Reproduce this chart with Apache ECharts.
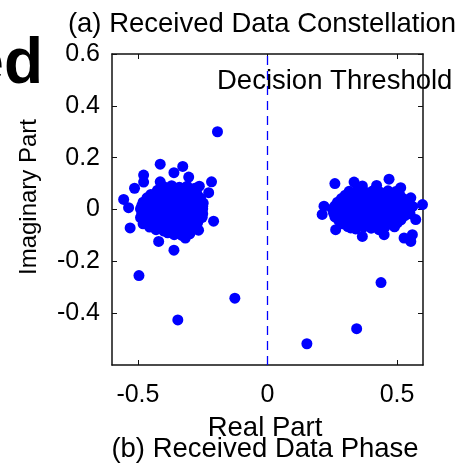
<!DOCTYPE html>
<html><head><meta charset="utf-8">
<script src="https://cdn.jsdelivr.net/npm/echarts@6/dist/echarts.min.js"></script>
<style>html,body{margin:0;padding:0;background:#fff}#c{width:465px;height:466px}</style>
</head><body><div id="c"></div>
<script>
// Tick labels
var xTicks = [-0.5, 0, 0.5];
var yTicks = [-0.4, -0.2, 0, 0.2, 0.4, 0.6];
var thresholdX = 0;

// Left cluster (symbol near -0.35)
var leftCore = [
 [-0.40,0.088],[-0.37,0.092],[-0.34,0.086],[-0.31,0.090],[-0.28,0.082],
 [-0.45,0.058],[-0.42,0.062],[-0.39,0.056],[-0.36,0.063],[-0.33,0.057],[-0.30,0.061],[-0.27,0.055],
 [-0.48,0.028],[-0.45,0.033],[-0.42,0.026],[-0.39,0.031],[-0.36,0.024],[-0.33,0.035],[-0.30,0.027],[-0.27,0.032],[-0.248,0.025],
 [-0.49,0.002],[-0.46,-0.004],[-0.43,0.005],[-0.40,-0.002],[-0.37,0.004],[-0.34,-0.003],[-0.31,0.006],[-0.28,-0.001],[-0.25,0.003],
 [-0.49,-0.031],[-0.46,-0.026],[-0.43,-0.034],[-0.40,-0.028],[-0.37,-0.033],[-0.34,-0.025],[-0.31,-0.032],[-0.28,-0.027],[-0.252,-0.030],
 [-0.48,-0.055],[-0.45,-0.060],[-0.42,-0.054],[-0.39,-0.061],[-0.36,-0.056],[-0.33,-0.063],[-0.30,-0.057],[-0.27,-0.052],
 [-0.43,-0.078],[-0.40,-0.083],[-0.37,-0.080],[-0.34,-0.086],[-0.31,-0.081],[-0.28,-0.074],
 [-0.36,-0.097],[-0.33,-0.100],[-0.30,-0.094]
];
var leftFill = [
 [-0.425,0.074],[-0.395,0.071],[-0.365,0.077],[-0.335,0.072],[-0.305,0.076],[-0.275,0.069],
 [-0.465,0.045],[-0.435,0.042],[-0.405,0.047],[-0.375,0.044],[-0.345,0.046],[-0.315,0.041],[-0.285,0.045],[-0.258,0.043],
 [-0.485,0.015],[-0.455,0.017],[-0.425,0.013],[-0.395,0.016],[-0.365,0.012],[-0.335,0.017],[-0.305,0.014],[-0.275,0.016],[-0.250,0.013],
 [-0.485,-0.015],[-0.455,-0.013],[-0.425,-0.017],[-0.395,-0.014],[-0.365,-0.016],[-0.335,-0.012],[-0.305,-0.017],[-0.275,-0.014],[-0.250,-0.016],
 [-0.475,-0.043],[-0.445,-0.046],[-0.415,-0.041],[-0.385,-0.045],[-0.355,-0.042],[-0.325,-0.047],[-0.295,-0.043],[-0.265,-0.040],
 [-0.455,-0.068],[-0.425,-0.071],[-0.395,-0.066],[-0.365,-0.070],[-0.335,-0.073],[-0.305,-0.069],[-0.280,-0.064],
 [-0.385,-0.090],[-0.355,-0.086],[-0.325,-0.091],[-0.295,-0.084]
];
var leftEdge = [
 [-0.555,0.039],[-0.536,0.007],[-0.530,-0.071],[-0.513,0.082],[-0.478,0.133],[-0.478,0.106],
 [-0.414,0.175],[-0.327,0.166],[-0.361,0.142],[-0.414,0.107],[-0.304,0.125],[-0.216,0.107],
 [-0.263,0.090],[-0.227,0.065],[-0.208,-0.045],[-0.420,-0.123],[-0.361,-0.157],[-0.317,-0.110],[-0.266,-0.080]
];
// Right cluster (symbol near +0.38)
var rightCore = [
 [0.30,0.055],[0.33,0.059],[0.36,0.052],[0.39,0.058],[0.42,0.054],[0.45,0.060],[0.48,0.053],[0.51,0.057],
 [0.27,0.028],[0.30,0.031],[0.33,0.025],[0.36,0.030],[0.39,0.024],[0.42,0.032],[0.45,0.026],[0.48,0.030],[0.51,0.024],[0.54,0.029],
 [0.25,0.002],[0.28,-0.003],[0.31,0.004],[0.34,-0.002],[0.37,0.003],[0.40,-0.004],[0.43,0.005],[0.46,-0.001],[0.49,0.003],[0.52,-0.003],[0.55,0.002],
 [0.26,-0.028],[0.29,-0.024],[0.32,-0.031],[0.35,-0.026],[0.38,-0.030],[0.41,-0.025],[0.44,-0.032],[0.47,-0.027],[0.50,-0.029],[0.53,-0.024],
 [0.29,-0.055],[0.32,-0.058],[0.35,-0.052],[0.38,-0.057],[0.41,-0.054],[0.44,-0.059],[0.47,-0.053],
 [0.34,-0.075],[0.40,-0.072],[0.43,-0.078]
];
var rightFill = [
 [0.315,0.070],[0.345,0.073],[0.375,0.068],[0.405,0.071],[0.435,0.067],[0.465,0.072],[0.495,0.069],
 [0.285,0.042],[0.315,0.045],[0.345,0.040],[0.375,0.044],[0.405,0.041],[0.435,0.046],[0.465,0.040],[0.495,0.043],[0.525,0.041],
 [0.260,0.014],[0.295,0.017],[0.325,0.012],[0.355,0.015],[0.385,0.013],[0.415,0.016],[0.445,0.012],[0.475,0.015],[0.505,0.013],[0.535,0.016],[0.560,0.012],
 [0.255,-0.014],[0.285,-0.012],[0.315,-0.016],[0.345,-0.013],[0.375,-0.015],[0.405,-0.012],[0.435,-0.016],[0.465,-0.013],[0.495,-0.015],[0.525,-0.012],[0.550,-0.016],
 [0.275,-0.042],[0.305,-0.044],[0.335,-0.040],[0.365,-0.043],[0.395,-0.041],[0.425,-0.045],[0.455,-0.041],[0.485,-0.044],[0.515,-0.040],
 [0.310,-0.066],[0.370,-0.068],[0.455,-0.065],[0.490,-0.067]
];
var rightEdge = [
 [0.260,0.100],[0.334,0.106],[0.366,0.091],[0.421,0.093],[0.469,0.117],[0.514,0.084],
 [0.553,0.045],[0.598,0.019],[0.572,-0.039],[0.218,0.013],[0.211,-0.019],
 [0.263,-0.078],[0.321,-0.071],[0.366,-0.104],[0.450,-0.097],[0.527,-0.110],[0.559,-0.097],[0.553,-0.123],[0.501,-0.052]
];
// Isolated outliers
var outliers = [
 [-0.193,0.300],[-0.496,-0.255],[-0.126,-0.342],[-0.346,-0.426],
 [0.438,-0.282],[0.344,-0.460],[0.152,-0.518]
];

var BLUE = '#0000ff';
var FONT = 'Liberation Sans, Arial, sans-serif';
var points = leftCore.concat(leftFill, leftEdge, rightCore, rightFill, rightEdge, outliers);

function fmt(v){ return String(+(+v).toFixed(1)); }
function axisBase(pos, showLabel, vals){
  return {
    type:'value', min:-0.6, max:0.6, position:pos,
    axisLine:{show:true, onZero:false, lineStyle:{color:'#111', width:1.5}},
    axisTick:{show:true, inside:true, length:5, customValues:vals, lineStyle:{color:'#111', width:1}},
    axisLabel:{show:showLabel, customValues:vals, formatter:fmt, color:'#000', fontSize:25, fontFamily:FONT, margin:pos==='bottom'?18:12},
    splitLine:{show:false}
  };
}

var chart = echarts.init(document.getElementById('c'), null, {renderer:'canvas'});
chart.setOption({
  animation:false,
  backgroundColor:'#fff',
  color:[BLUE],
  grid:{left:112, right:42, top:54, bottom:101, containLabel:false},
  xAxis:[axisBase('bottom', true, xTicks), axisBase('top', false, xTicks)],
  yAxis:[axisBase('left', true, yTicks), axisBase('right', false, yTicks)],
  series:[
    {
      type:'line', data:[[thresholdX,-0.6],[thresholdX,0.6]], symbol:'none', silent:true,
      color:BLUE, itemStyle:{color:BLUE},
      lineStyle:{color:BLUE, type:[9,6], width:1.3, opacity:1}, z:1
    },
    {
      type:'scatter', data:points, symbol:'circle', symbolSize:11, color:BLUE,
      itemStyle:{color:BLUE, opacity:1}, silent:true, z:2
    }
  ],
  graphic:[
    {type:'text', x:262, y:24, style:{text:'(a) Received Data Constellation', font:'27.5px '+FONT, fill:'#000', textAlign:'center', align:'center', textVerticalAlign:'middle', verticalAlign:'middle'}},
    {type:'text', x:43, y:65, style:{text:'ed', font:'bold 64px '+FONT, fill:'#000', textAlign:'right', align:'right', textVerticalAlign:'middle', verticalAlign:'middle'}},
    {type:'text', x:217, y:81, style:{text:'Decision Threshold', font:'27.5px '+FONT, fill:'#000', textAlign:'left', align:'left', textVerticalAlign:'middle', verticalAlign:'middle'}},
    {type:'text', x:29.5, y:197, rotation:Math.PI/2, style:{text:'Imaginary Part', font:'24px '+FONT, fill:'#000', textAlign:'center', align:'center', textVerticalAlign:'middle', verticalAlign:'middle'}},
    {type:'text', x:265, y:428, style:{text:'Real Part', font:'27.5px '+FONT, fill:'#000', textAlign:'center', align:'center', textVerticalAlign:'middle', verticalAlign:'middle'}},
    {type:'text', x:265, y:449, style:{text:'(b) Received Data Phase', font:'27.5px '+FONT, fill:'#000', textAlign:'center', align:'center', textVerticalAlign:'middle', verticalAlign:'middle'}}
  ]
});
</script></body></html>
